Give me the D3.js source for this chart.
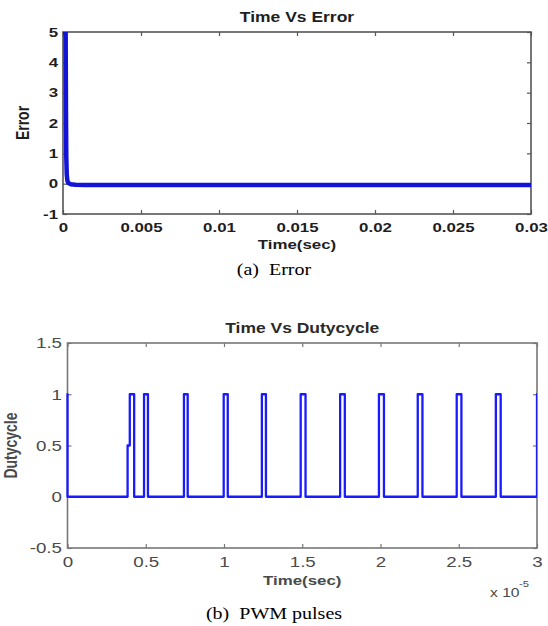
<!DOCTYPE html>
<html>
<head>
<meta charset="utf-8">
<script src="https://cdn.jsdelivr.net/npm/d3@7/dist/d3.min.js"></script>
<style>
  html, body { margin: 0; padding: 0; background: #fff; }
  svg { display: block; }
</style>
</head>
<body>
<svg id="fig" width="548" height="626"></svg>
<script>
// ---- Error response (time in seconds) ----
const errTime  = [0, 0.00017, 0.00019, 0.00021, 0.00024, 0.00028, 0.00034, 0.0005, 0.0008, 0.0014, 0.03];
const errValue = [5, 5, 2.4, 0.9, 0.3, 0.1, 0.02, -0.02, -0.035, -0.04, -0.04];

// ---- PWM duty cycle (time in units of 1e-5 s), step signal ----
const dutyTime  = [0, 0, 0.384, 0.398, 0.426, 0.489, 0.514, 0.744, 0.768, 0.998, 1.024, 1.242, 1.268,
                   1.490, 1.521, 1.742, 1.772, 1.990, 2.022, 2.238, 2.268, 2.487, 2.517, 2.737, 2.768, 3.0];
const dutyValue = [1, 0, 0.5, 1, 0, 1, 0, 1, 0, 1, 0, 1, 0,
                   1, 0, 1, 0, 1, 0, 1, 0, 1, 0, 1, 0, 1];

// ---- Tick values and labels ----
const errXTicks = [0, 0.005, 0.01, 0.015, 0.02, 0.025, 0.03];
const errXTickLabels = ["0", "0.005", "0.01", "0.015", "0.02", "0.025", "0.03"];
const errYTicks = [-1, 0, 1, 2, 3, 4, 5];
const errYTickLabels = ["-1", "0", "1", "2", "3", "4", "5"];
const dutyXTicks = [0, 0.5, 1, 1.5, 2, 2.5, 3];
const dutyXTickLabels = ["0", "0.5", "1", "1.5", "2", "2.5", "3"];
const dutyYTicks = [-0.5, 0, 0.5, 1, 1.5];
const dutyYTickLabels = ["-0.5", "0", "0.5", "1", "1.5"];

const SX = 1.25; // horizontal stretch of all lettering
const svg = d3.select("#fig");

function stretchedText(g, x, y, str, opts) {
  const grp = g.append("g").attr("transform", `translate(${x},${y}) scale(${SX},1)` + (opts.rotate ? ` rotate(${opts.rotate})` : ""));
  const t = grp.append("text")
    .attr("text-anchor", opts.anchor || "middle")
    .attr("font-family", opts.family || "'Liberation Sans', Arial, sans-serif")
    .attr("font-size", opts.size || 12)
    .attr("font-weight", opts.weight || "normal")
    .attr("fill", opts.fill || "#222")
    .style("white-space", "pre")
    .text(str);
  return t;
}

function drawPanel(cfg) {
  const x = d3.scaleLinear().domain(cfg.xDomain).range([cfg.left, cfg.right]);
  const y = d3.scaleLinear().domain(cfg.yDomain).range([cfg.bottom, cfg.top]);
  const g = svg.append("g");

  const clipId = cfg.id + "-clip";
  svg.append("clipPath").attr("id", clipId)
    .append("rect").attr("x", cfg.left - (cfg.clipLeftPad || 0)).attr("y", cfg.top)
    .attr("width", cfg.right - cfg.left + (cfg.clipLeftPad || 0)).attr("height", cfg.bottom - cfg.top);

  const fmt = (ticks, labels) => (d => labels[ticks.indexOf(d)]);

  // inward ticks on all four sides
  const axB = d3.axisBottom(x).tickValues(cfg.xTicks).tickFormat(fmt(cfg.xTicks, cfg.xLabels))
    .tickSizeInner(-4).tickSizeOuter(0).tickPadding(cfg.xPad);
  const axT = d3.axisTop(x).tickValues(cfg.xTicks).tickFormat("").tickSizeInner(-4).tickSizeOuter(0);
  const axL = d3.axisLeft(y).tickValues(cfg.yTicks).tickFormat(fmt(cfg.yTicks, cfg.yLabels))
    .tickSizeInner(-4).tickSizeOuter(0).tickPadding(cfg.yPad);
  const axR = d3.axisRight(y).tickValues(cfg.yTicks).tickFormat("").tickSizeInner(-4).tickSizeOuter(0);

  const style = sel => {
    sel.select(".domain").remove();
    sel.selectAll(".tick line").attr("stroke", cfg.boxColor).attr("stroke-width", 1.2);
    sel.selectAll(".tick text")
      .attr("font-family", "'Liberation Sans', Arial, sans-serif")
      .attr("font-size", cfg.tickSize)
      .attr("font-weight", cfg.tickWeight)
      .attr("fill", cfg.textColor)
      .attr("transform", `scale(${SX},1)`);
  };
  g.append("g").attr("transform", `translate(0,${cfg.bottom})`).call(axB).call(style);
  g.append("g").attr("transform", `translate(0,${cfg.top})`).call(axT).call(style);
  g.append("g").attr("transform", `translate(${cfg.left},0)`).call(axL).call(style);
  g.append("g").attr("transform", `translate(${cfg.right},0)`).call(axR).call(style);

  // frame
  g.append("rect")
    .attr("x", cfg.left).attr("y", cfg.top)
    .attr("width", cfg.right - cfg.left).attr("height", cfg.bottom - cfg.top)
    .attr("fill", "none").attr("stroke", cfg.boxColor).attr("stroke-width", 1.6);

  // data line
  const line = d3.line().x(d => x(d[0])).y(d => y(d[1])).curve(cfg.curve);
  g.append("path")
    .datum(d3.zip(cfg.xs, cfg.ys))
    .attr("clip-path", `url(#${clipId})`)
    .attr("d", line)
    .attr("fill", "none")
    .attr("stroke", cfg.lineColor)
    .attr("stroke-width", cfg.lineWidth)
    .attr("stroke-linejoin", "round")
    .attr("stroke-linecap", "round");

  // title and axis labels
  const cx = (cfg.left + cfg.right) / 2;
  stretchedText(g, cx, cfg.top - 10, cfg.title, { size: 14, weight: "bold", fill: cfg.titleColor });
  stretchedText(g, cx, cfg.xLabelY, "Time(sec)", { size: 13.5, weight: "bold", fill: cfg.textColor });
  stretchedText(g, cfg.yLabelX, (cfg.top + cfg.bottom) / 2, cfg.yLabel,
    { size: 14, weight: "bold", fill: cfg.textColor, rotate: -90 });
  return { x, y, g };
}

// (a) Error panel
drawPanel({
  id: "err", left: 63, right: 531, top: 32, bottom: 214,
  xDomain: [0, 0.03], yDomain: [-1, 5],
  xTicks: errXTicks, xLabels: errXTickLabels, yTicks: errYTicks, yLabels: errYTickLabels,
  xPad: 8, yPad: 4, tickSize: 13.5, tickWeight: "bold",
  textColor: "#1e1e1e", titleColor: "#1e1e1e", boxColor: "#555",
  xs: errTime, ys: errValue, curve: d3.curveLinear,
  lineColor: "#1414d8", lineWidth: 4.5,
  title: "Time Vs Error", xLabelY: 249, yLabel: "Error", yLabelX: 29
});

// (b) PWM panel
const pwm = drawPanel({
  id: "pwm", left: 67.5, right: 537, top: 343, bottom: 548, clipLeftPad: 2,
  xDomain: [0, 3], yDomain: [-0.5, 1.5],
  xTicks: dutyXTicks, xLabels: dutyXTickLabels, yTicks: dutyYTicks, yLabels: dutyYTickLabels,
  xPad: 8, yPad: 4.4, tickSize: 15, tickWeight: "normal",
  textColor: "#4a4a4a", titleColor: "#2a2a2a", boxColor: "#777",
  xs: dutyTime, ys: dutyValue, curve: d3.curveStepAfter,
  lineColor: "#1a1aff", lineWidth: 2.3,
  title: "Time Vs Dutycycle", xLabelY: 585, yLabel: "Dutycycle", yLabelX: 17
});

// exponent marker for the PWM time axis
pwm.g.call(g => stretchedText(g, 490, 597, "x 10", { size: 12.5, anchor: "start", fill: "#4a4a4a" }));
pwm.g.call(g => stretchedText(g, 519, 587, "-5", { size: 9, anchor: "start", fill: "#4a4a4a" }));

// captions
stretchedText(svg, 274, 275, "(a)  Error", { size: 16, family: "'Liberation Serif', 'Times New Roman', serif", fill: "#000" });
stretchedText(svg, 274, 619, "(b)  PWM pulses", { size: 16, family: "'Liberation Serif', 'Times New Roman', serif", fill: "#000" });
</script>
</body>
</html>
